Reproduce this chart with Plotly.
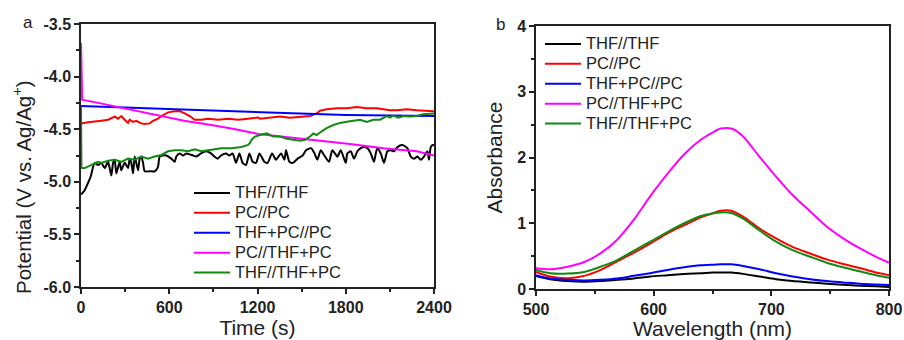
import plotly.graph_objects as go

# ---------------- Panel a: potential vs time ----------------
names = ["THF//THF", "PC//PC", "THF+PC//PC", "PC//THF+PC", "THF//THF+PC"]
colors = ["#000000", "#ff0000", "#0000ff", "#ff00ff", "#108a10"]

a_thf_thf = [(0, -5.12), (7, -5.11), (25, -5.08), (48, -5.01), (66, -4.95), (82, -4.86), (93, -4.82),
             (116, -4.84), (138, -4.82), (161, -4.87), (184, -4.81), (206, -4.94), (218, -4.82), (229, -4.79),
             (240, -4.92), (263, -4.81), (274, -4.89), (297, -4.82), (320, -4.87), (331, -4.78), (342, -4.82),
             (354, -4.92), (365, -4.76), (388, -4.89), (399, -4.78), (410, -4.76), (422, -4.82), (433, -4.90),
             (467, -4.90), (501, -4.90), (523, -4.86), (535, -4.76), (558, -4.75), (580, -4.75), (614, -4.78),
             (637, -4.81), (648, -4.76), (671, -4.73), (694, -4.75), (716, -4.73), (762, -4.75), (784, -4.76),
             (816, -4.73), (850, -4.71), (884, -4.73), (907, -4.76), (929, -4.78), (952, -4.75), (986, -4.73),
             (1008, -4.75), (1031, -4.73), (1054, -4.82), (1077, -4.73), (1099, -4.82), (1122, -4.84),
             (1145, -4.73), (1167, -4.81), (1190, -4.82), (1213, -4.73), (1247, -4.81), (1269, -4.82),
             (1299, -4.73), (1326, -4.79), (1360, -4.73), (1383, -4.79), (1394, -4.70), (1417, -4.81),
             (1440, -4.82), (1473, -4.78), (1507, -4.75), (1530, -4.70), (1564, -4.68), (1584, -4.72),
             (1607, -4.79), (1630, -4.70), (1652, -4.745), (1686, -4.81), (1709, -4.70), (1743, -4.76),
             (1766, -4.70), (1800, -4.82), (1811, -4.73), (1834, -4.71), (1856, -4.78), (1879, -4.71),
             (1902, -4.68), (1924, -4.67), (1947, -4.68), (1970, -4.73), (1992, -4.81), (2004, -4.73),
             (2015, -4.68), (2038, -4.73), (2060, -4.82), (2083, -4.71), (2106, -4.70), (2128, -4.71),
             (2151, -4.67), (2185, -4.65), (2219, -4.68), (2242, -4.76), (2264, -4.78), (2287, -4.76),
             (2310, -4.79), (2332, -4.76), (2355, -4.71), (2366, -4.79), (2378, -4.67), (2392, -4.65),
             (2400, -4.65)]

a_pc_pc = [(0, -4.45), (2, -4.445), (48, -4.435), (93, -4.43), (138, -4.42), (184, -4.41), (229, -4.38),
           (252, -4.40), (274, -4.375), (297, -4.41), (320, -4.44), (331, -4.41), (354, -4.43), (376, -4.42),
           (410, -4.445), (433, -4.45), (467, -4.445), (490, -4.42), (524, -4.40), (558, -4.365), (592, -4.34),
           (637, -4.33), (671, -4.327), (705, -4.35), (739, -4.375), (773, -4.41), (818, -4.41), (864, -4.40),
           (932, -4.41), (1000, -4.40), (1068, -4.41), (1136, -4.40), (1204, -4.39), (1217, -4.40),
           (1285, -4.39), (1353, -4.38), (1421, -4.39), (1489, -4.38), (1557, -4.375), (1602, -4.35),
           (1625, -4.325), (1670, -4.31), (1739, -4.30), (1807, -4.30), (1875, -4.29), (1943, -4.30),
           (2011, -4.30), (2056, -4.31), (2101, -4.32), (2147, -4.32), (2215, -4.31), (2283, -4.32),
           (2351, -4.325), (2400, -4.33)]

a_thfpc_pc = [(0, -4.28), (300, -4.295), (600, -4.31), (900, -4.325), (1200, -4.34), (1500, -4.355),
              (1800, -4.365), (2100, -4.37), (2400, -4.375)]

a_pc_thfpc = [(0, -3.68), (3, -4.0), (8, -4.22), (100, -4.245), (206, -4.275), (400, -4.33), (535, -4.375),
              (700, -4.42), (886, -4.46), (1050, -4.50), (1204, -4.545), (1376, -4.57), (1602, -4.60),
              (1829, -4.64), (2056, -4.68), (2283, -4.71), (2400, -4.75)]

a_thf_thfpc = [(0, -4.28), (3, -4.87), (25, -4.87), (70, -4.84), (116, -4.81), (138, -4.82), (184, -4.80),
               (229, -4.79), (274, -4.81), (320, -4.78), (365, -4.79), (410, -4.76), (456, -4.78), (501, -4.76),
               (546, -4.745), (592, -4.71), (637, -4.70), (682, -4.70), (728, -4.71), (773, -4.69), (818, -4.71),
               (864, -4.70), (909, -4.69), (954, -4.68), (1022, -4.68), (1090, -4.67), (1136, -4.65),
               (1149, -4.63), (1160, -4.60), (1183, -4.57), (1217, -4.555), (1262, -4.54), (1308, -4.57),
               (1353, -4.57), (1398, -4.59), (1444, -4.60), (1489, -4.61), (1523, -4.60), (1557, -4.57),
               (1580, -4.54), (1602, -4.555), (1636, -4.52), (1670, -4.49), (1716, -4.46), (1761, -4.44),
               (1807, -4.43), (1852, -4.42), (1897, -4.41), (1943, -4.43), (1988, -4.41), (2033, -4.41),
               (2079, -4.375), (2101, -4.39), (2124, -4.37), (2158, -4.39), (2192, -4.375), (2237, -4.38),
               (2283, -4.375), (2328, -4.357), (2373, -4.357), (2400, -4.35)]

a_series = [a_thf_thf, a_pc_pc, a_thfpc_pc, a_pc_thfpc, a_thf_thfpc]

a_xticks = [0, 600, 1200, 1800, 2400]
a_xticklabels = ["0", "600", "1200", "1800", "2400"]
a_yticks = [-3.5, -4.0, -4.5, -5.0, -5.5, -6.0]
a_yticklabels = ["-3.5", "-4.0", "-4.5", "-5.0", "-5.5", "-6.0"]

# ---------------- Panel b: absorbance spectra ----------------
wavelength = [500, 512, 527, 541, 555, 569, 583, 597, 612, 626, 640, 650, 657, 666, 676, 690, 704, 718,
              733, 747, 761, 775, 789, 800]
b_thf_thf = [0.20, 0.15, 0.12, 0.11, 0.12, 0.14, 0.16, 0.19, 0.21, 0.23, 0.24, 0.25, 0.25, 0.25, 0.23,
             0.19, 0.15, 0.12, 0.10, 0.08, 0.065, 0.05, 0.04, 0.03]
b_pc_pc = [0.26, 0.19, 0.165, 0.20, 0.29, 0.42, 0.55, 0.69, 0.85, 0.97, 1.09, 1.15, 1.19, 1.19, 1.10,
           0.92, 0.77, 0.64, 0.54, 0.45, 0.38, 0.32, 0.25, 0.21]
b_thfpc_pc = [0.21, 0.16, 0.14, 0.13, 0.14, 0.16, 0.20, 0.24, 0.29, 0.33, 0.36, 0.37, 0.375, 0.375, 0.35,
              0.30, 0.24, 0.19, 0.15, 0.12, 0.10, 0.08, 0.07, 0.06]
b_pc_thfpc = [0.315, 0.30, 0.34, 0.41, 0.545, 0.75, 1.05, 1.41, 1.76, 2.05, 2.27, 2.38, 2.44, 2.44, 2.32,
              2.01, 1.71, 1.43, 1.18, 0.95, 0.77, 0.62, 0.49, 0.40]
b_thf_thfpc = [0.29, 0.24, 0.235, 0.26, 0.34, 0.44, 0.58, 0.72, 0.87, 1.00, 1.11, 1.15, 1.165, 1.155, 1.07,
               0.89, 0.72, 0.59, 0.49, 0.40, 0.33, 0.27, 0.21, 0.17]
b_series = [b_thf_thf, b_pc_pc, b_thfpc_pc, b_pc_thfpc, b_thf_thfpc]

b_xticks = [500, 600, 700, 800]
b_yticks = [0, 1, 2, 3, 4]

# ---------------- figure ----------------
FONT = "Arial, Liberation Sans, Helvetica, sans-serif"
LEG_TEXT = '<span style="font-size:16.5px">{}</span>'
fig = go.Figure()

for i, (name, col, pts) in enumerate(zip(names, colors, a_series)):
    shp = dict(shape="spline", smoothing=0.6) if i == 0 else {}
    fig.add_trace(go.Scatter(x=[p[0] for p in pts], y=[p[1] for p in pts], mode="lines",
                             name=LEG_TEXT.format(name),
                             line=dict(color=col, width=2, **shp), xaxis="x", yaxis="y", legend="legend"))

for name, col, vals in zip(names, colors, b_series):
    fig.add_trace(go.Scatter(x=wavelength, y=vals, mode="lines", name=LEG_TEXT.format(name),
                             line=dict(color=col, width=2, shape="spline", smoothing=0.8),
                             xaxis="x2", yaxis="y2", legend="legend2"))

tickfont = dict(family=FONT, size=16, color="#222222", weight="bold")
titlefont = dict(family=FONT, size=21, color="#222222")
common = dict(showline=True, linecolor="#222222", linewidth=1.5, mirror=True, ticks="outside",
              ticklen=5, tickwidth=1.5, tickcolor="#222222", showgrid=False, zeroline=False,
              tickfont=tickfont, automargin=False)

W, H = 904, 340
fig.update_layout(
    width=W, height=H, margin=dict(l=0, r=0, t=0, b=0, autoexpand=False),
    paper_bgcolor="white", plot_bgcolor="white",
    xaxis=dict(domain=[81 / W, 434 / W], range=[0, 2400], anchor="y",
               tickvals=a_xticks, ticktext=a_xticklabels,
               minor=dict(ticks="outside", ticklen=3, tickwidth=1.5, tickcolor="#222222", dtick=300,
                          showgrid=False),
               title=dict(text="Time (s)", font=titlefont, standoff=5), **common),
    yaxis=dict(domain=[1 - 287 / H, 1 - 24 / H], range=[-6.0, -3.5], anchor="x",
               tickvals=a_yticks, ticktext=a_yticklabels,
               minor=dict(ticks="outside", ticklen=3, tickwidth=1.5, tickcolor="#222222", dtick=0.25,
                          showgrid=False),
               **common),
    xaxis2=dict(domain=[536 / W, 889 / W], range=[500, 800], anchor="y2",
                tickvals=b_xticks,
                minor=dict(ticks="outside", ticklen=3, tickwidth=1.5, tickcolor="#222222", dtick=50,
                           showgrid=False),
                title=dict(text="Wavelength (nm)", font=titlefont, standoff=5), **common),
    yaxis2=dict(domain=[1 - 289 / H, 1 - 26 / H], range=[0, 4], anchor="x2",
                tickvals=b_yticks,
                minor=dict(ticks="outside", ticklen=3, tickwidth=1.5, tickcolor="#222222", dtick=0.5,
                           showgrid=False),
                title=dict(text="Absorbance", font=titlefont, standoff=9), **common),
    legend=dict(x=189 / W, y=1 - 178 / H, xanchor="left", yanchor="top", bgcolor="rgba(0,0,0,0)",
                font=dict(family=FONT, size=13, color="#222222"), tracegroupgap=0, itemwidth=36),
    legend2=dict(x=540 / W, y=1 - 29 / H, xanchor="left", yanchor="top", bgcolor="rgba(0,0,0,0)",
                 font=dict(family=FONT, size=13, color="#222222"), tracegroupgap=0, itemwidth=36),
    annotations=[
        dict(text="Potential (V vs. Ag/Ag<sup>+</sup>)", x=22 / W, y=1 - 187 / H, xref="paper",
             yref="paper", showarrow=False, textangle=-90, font=dict(family=FONT, size=20.5, color="#222222"),
             xanchor="center", yanchor="middle"),
        dict(text="a", x=28 / W, y=1 - 23 / H, xref="paper", yref="paper", showarrow=False,
             font=dict(family=FONT, size=17, color="#222222"), xanchor="center", yanchor="middle"),
        dict(text="b", x=500 / W, y=1 - 25 / H, xref="paper", yref="paper", showarrow=False,
             font=dict(family=FONT, size=17, color="#222222"), xanchor="center", yanchor="middle"),
    ],
)

fig.write_html("out.html")
